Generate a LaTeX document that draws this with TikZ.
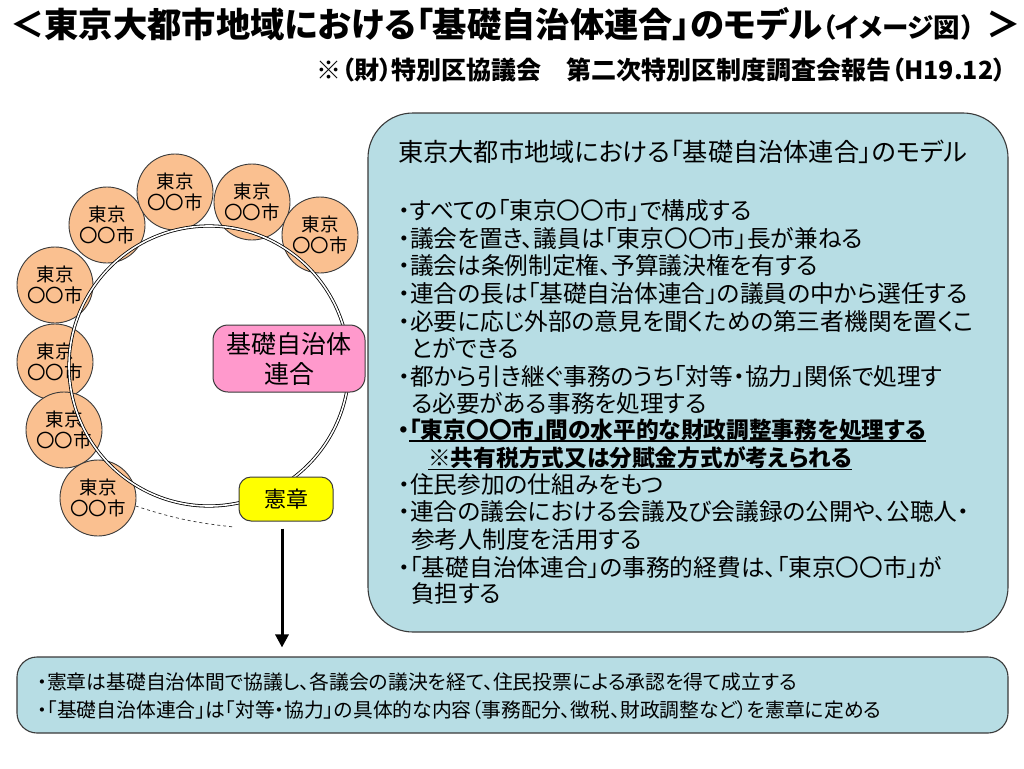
\documentclass[tikz,border=0pt]{standalone}
\usepackage{fontspec}
\setmainfont[RawFeature=+palt]{Noto Sans CJK JP}
\usetikzlibrary{arrows.meta}
\definecolor{boxteal}{HTML}{B7DDE4}
\definecolor{cityorange}{HTML}{FAC090}
\definecolor{unionpink}{HTML}{FF99CC}
\definecolor{kenyellow}{HTML}{FFFF00}
\definecolor{edgegray}{HTML}{3A3A3A}
\newcommand\fsz[2]{\fontsize{#1}{#2}\selectfont}
\begin{document}
\begin{tikzpicture}[x=1pt,y=-1pt,
  city/.style={circle,draw=edgegray,line width=0.9,fill=cityorange,minimum size=76,inner sep=0,align=center,font=\fsz{18.5}{21}},
  ringstyle/.style={circle,draw=black,double=white,double distance=1.6,line width=0.8,minimum size=280,inner sep=0},
  panel/.style={draw=edgegray,line width=1.1,fill=boxteal,inner sep=0},
  bul/.style={anchor=west,inner sep=0,font=\fsz{23.7}{27}},
  bulb/.style={anchor=west,inner sep=0,font=\fsz{22.7}{27}\bfseries},
  low/.style={anchor=west,inner sep=0,font=\fsz{19.8}{22}},
  arrowline/.style={line width=3,-{Triangle[width=13,length=13]}},
]
\fill[white] (0,0) rectangle (1024,768);
\useasboundingbox (0,0) rectangle (1024,768);

% title
\node[anchor=west,inner sep=0,font=\fsz{34.3}{38}\bfseries] (ttl) at (10,24) {＜東京大都市地域における「基礎自治体連合」のモデル{\fsz{26.5}{30}（イメージ図\addfontfeature{RawFeature=-palt}）}＞};
\node[anchor=east,inner sep=0,font=\fsz{25}{28}\bfseries] (sub) at (1006,70) {※（財）特別区協議会　第二次特別区制度調査会報告（H19.12）};

% cities
\node[city] (c1) at (107,225) {東京\\〇〇市};
\node[city] (c2) at (175,192) {東京\\〇〇市};
\node[city] (c3) at (252,202) {東京\\〇〇市};
\node[city] (c4) at (320,235) {東京\\〇〇市};
\node[city] (c5) at (55,285) {東京\\〇〇市};
\node[city] (c6) at (55,362) {東京\\〇〇市};
\node[city] (c7) at (64,430) {東京\\〇〇市};
\node[city] (c8) at (98,498) {東京\\〇〇市};

% ring
\node[ringstyle] (ring) at (209,366) {};

% union and charter
\node[draw=edgegray,line width=1,fill=unionpink,rounded corners=15,minimum width=152,minimum height=67,inner sep=0,align=center,font=\fsz{25}{30}] (union) at (289,358.5) {基礎自治体\\連合};
\node[draw=edgegray,line width=1,fill=kenyellow,rounded corners=12,minimum width=94,minimum height=44,inner sep=0,font=\fsz{22}{24}] (ken) at (286,499) {憲章};

\coordinate (dashend) at (234,527);
\draw[dashed,line width=0.7,edgegray] (c8.-12) to[bend right=6] (dashend);

% panels
\node[panel,rounded corners=45,minimum width=640,minimum height=519] (big) at (688,372.5) {};
\node[panel,rounded corners=20,minimum width=991,minimum height=76] (bot) at (512.5,695) {};

\draw[arrowline,shorten <=7,shorten >=9] ([xshift=-4]ken.south) -- ([xshift=-4]ken.south |- bot.north);

% big panel text
\node[anchor=west,inner sep=0,font=\fsz{25.2}{28}] (hdr) at (398,152) {東京大都市地域における「基礎自治体連合」のモデル};
\node[bul] (l1) at (398,211) {・すべての「東京〇〇市」で構成する};
\node[bul] (l2) at (398,239) {・議会を置き、議員は「東京〇〇市」長が兼ねる};
\node[bul] (l3) at (398,266) {・議会は条例制定権、予算議決権を有する};
\node[bul] (l4) at (398,294) {・連合の長は「基礎自治体連合」の議員の中から選任する};
\node[bul] (l5) at (398,321) {・必要に応じ外部の意見を聞くための第三者機関を置くこ};
\node[bul] (l6) at (411,348) {とができる};
\node[bul] (l7) at (398,376) {・都から引き継ぐ事務のうち「対等・協力」関係で処理す};
\node[bul] (l8) at (411,403) {る必要がある事務を処理する};
\node[bulb] (l9) at (398,430) {・「東京〇〇市」間の水平的な財政調整事務を処理する};
\draw[line width=1.4] ([xshift=11]l9.south west) -- (l9.south east);
\node[bulb] (l10) at (428,458) {※共有税方式又は分賦金方式が考えられる};
\draw[line width=1.4] (l10.south west) -- (l10.south east);
\node[bul] (l11) at (398,485) {・住民参加の仕組みをもつ};
\node[bul] (l12) at (398,512) {・連合の議会における会議及び会議録の公開や、公聴人・};
\node[bul] (l13) at (411,540) {参考人制度を活用する};
\node[bul] (l14) at (398,567) {・「基礎自治体連合」の事務的経費は、「東京〇〇市」が};
\node[bul] (l15) at (411,594) {負担する};

% bottom panel text
\node[low] (b1) at (37,682) {・憲章は基礎自治体間で協議し、各議会の議決を経て、住民投票による承認を得て成立する};
\node[low] (b2) at (37,710) {・「基礎自治体連合」は「対等・協力」の具体的な内容（事務配分、徴税、財政調整など）を憲章に定める};
\end{tikzpicture}
\end{document}
